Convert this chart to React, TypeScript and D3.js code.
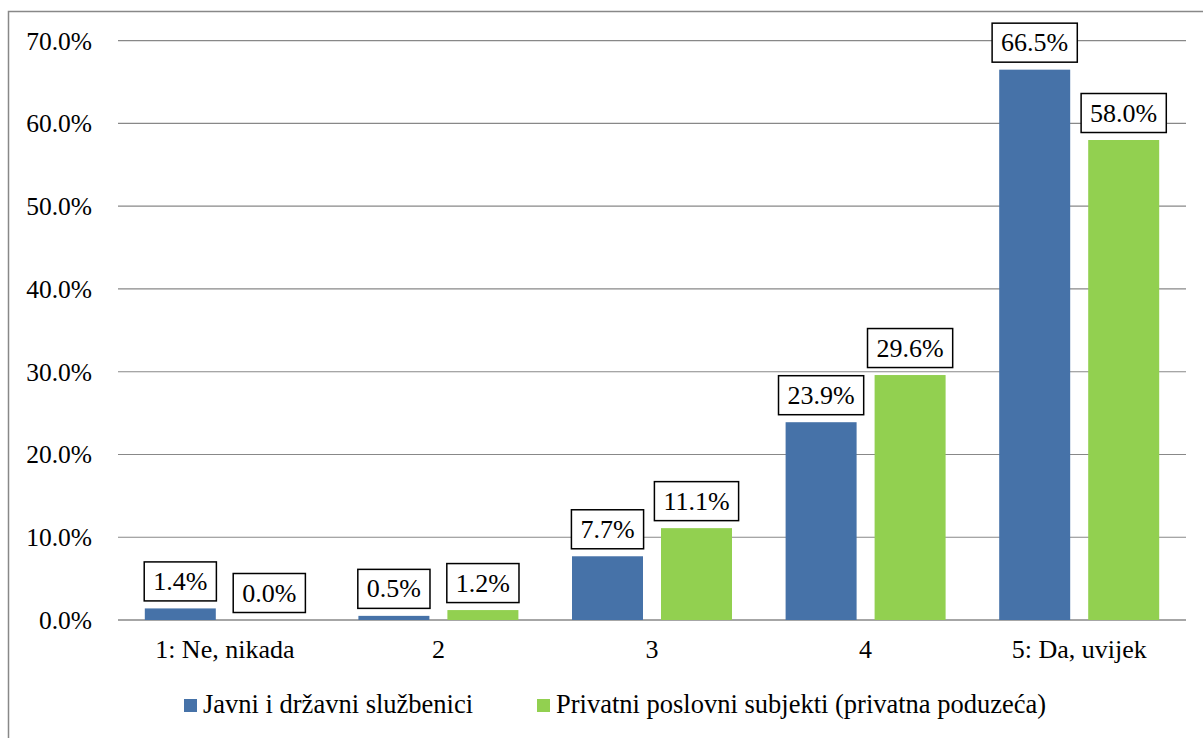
import React, { useEffect, useRef } from "react";
import * as d3 from "d3";

const categories = ["1: Ne, nikada", "2", "3", "4", "5: Da, uvijek"];
const seriesNames = ["Javni i državni službenici", "Privatni poslovni subjekti (privatna poduzeća)"];
const javni = [1.4, 0.5, 7.7, 23.9, 66.5];
const privatni = [0.0, 1.2, 11.1, 29.6, 58.0];
const yTicks = [0, 10, 20, 30, 40, 50, 60, 70];
const colors = ["#4672A8", "#92D050"];

export default function App() {
  const ref = useRef<SVGSVGElement>(null);
  useEffect(() => {
    const svg = d3.select(ref.current);
    svg.selectAll("*").remove();
    const font = "'Liberation Serif', 'Times New Roman', serif";
    const fs = 26;
    const left = 118, right = 1186, top = 40.7, bottom = 620;
    const x = d3.scaleBand().domain(categories).range([left, right]).paddingInner(0).paddingOuter(0);
    const y = d3.scaleLinear().domain([0, 70]).range([bottom, top]);
    const barW = 71, gap = 18;

    // outer border
    svg.append("rect").attr("x", 8.5).attr("y", 11.5).attr("width", 1200).attr("height", 740)
      .attr("fill", "white").attr("stroke", "#888").attr("stroke-width", 1.5);

    // gridlines
    svg.append("g").selectAll("line").data(yTicks).join("line")
      .attr("x1", left).attr("x2", right)
      .attr("y1", d => y(d)).attr("y2", d => y(d))
      .attr("stroke", "#888").attr("stroke-width", d => d === 0 ? 1.5 : 1.2);

    svg.append("g").selectAll("text").data(yTicks).join("text")
      .attr("x", 92).attr("y", d => y(d)).attr("dy", "0.35em")
      .attr("text-anchor", "end").attr("font-family", font).attr("font-size", 25.5)
      .attr("fill", "#000").text(d => d.toFixed(1) + "%");

    const series = [javni, privatni];
    const labelsG = svg.append("g");
    series.forEach((vals, si) => {
      vals.forEach((v, i) => {
        const c = x(categories[i])! + x.bandwidth() / 2;
        const bx = si === 0 ? c - gap / 2 - barW : c + gap / 2;
        svg.append("rect").attr("x", bx).attr("y", y(v)).attr("width", barW)
          .attr("height", y(0) - y(v)).attr("fill", colors[si]);
        const cx = bx + barW / 2;
        const boxBottom = y(v) - 7.5;
        const g = labelsG.append("g");
        const rect = g.append("rect");
        const t = g.append("text").attr("x", cx).attr("y", boxBottom - 11)
          .attr("text-anchor", "middle").attr("font-family", font).attr("font-size", fs)
          .attr("fill", "#000").text(v.toFixed(1) + "%");
        const w = (t.node() as SVGTextElement).getComputedTextLength();
        const bw = w + 18;
        rect.attr("x", cx - bw / 2).attr("y", boxBottom - 39).attr("width", bw).attr("height", 39)
          .attr("fill", "white").attr("stroke", "#000").attr("stroke-width", 1.5);
      });
    });

    // category labels
    svg.append("g").selectAll("text").data(categories).join("text")
      .attr("x", d => x(d)! + x.bandwidth() / 2).attr("y", 658)
      .attr("text-anchor", "middle").attr("font-family", font).attr("font-size", fs)
      .attr("fill", "#000").text(d => d);

    // legend
    const legendX = [184, 537];
    seriesNames.forEach((n, i) => {
      svg.append("rect").attr("x", legendX[i]).attr("y", 699).attr("width", 13).attr("height", 13)
        .attr("fill", colors[i]);
      svg.append("text").attr("x", legendX[i] + 19).attr("y", 713)
        .attr("font-family", font).attr("font-size", 26.5).attr("fill", "#000").text(n);
    });
  }, []);
  return (
    <svg ref={ref} width={1203} height={738}
      style={{ position: "absolute", left: 0, top: 0, display: "block" }} />
  );
}
